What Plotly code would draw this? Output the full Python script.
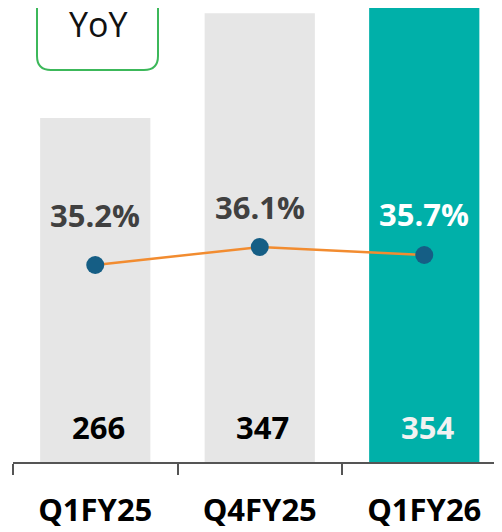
import plotly.graph_objects as go

categories = ["Q1FY25", "Q4FY25", "Q1FY26"]
values = [266, 347, 354]
yoy_pct = [35.2, 36.1, 35.7]
value_labels = ["266", "347", "354"]
pct_labels = ["35.2%", "36.1%", "35.7%"]

bar_colors = ["#e6e6e6", "#e6e6e6", "#00b0a9"]
value_text_colors = ["#000000", "#000000", "#f2f2f2"]
pct_text_colors = ["#404040", "#404040", "#ffffff"]
pct_shift = [50, 40, 41]

W, H = 502, 532
ML, MR, MT, MB = 5, 0, 0, 78
PW, PH = W - ML - MR, H - MT - MB

fig = go.Figure()
fig.add_trace(go.Bar(x=categories, y=values, marker=dict(color=bar_colors, line=dict(width=0)),
                     width=0.67, hoverinfo="skip"))
fig.add_trace(go.Scatter(x=categories, y=yoy_pct, yaxis="y2", mode="lines+markers",
                         line=dict(color="#f28c30", width=2.5),
                         marker=dict(color="#155e85", size=18), hoverinfo="skip"))

for c, v, t, col in zip(categories, values, value_labels, value_text_colors):
    fig.add_annotation(x=c, y=0, yref="y", text=f"<b>{t}</b>", showarrow=False,
                       yanchor="bottom", yshift=12, xshift=3,
                       font=dict(family="Open Sans", size=31, color=col))
for c, p, t, col, s in zip(categories, yoy_pct, pct_labels, pct_text_colors, pct_shift):
    fig.add_annotation(x=c, y=p, yref="y2", text=f"<b>{t}</b>", showarrow=False,
                       yanchor="middle", yshift=s,
                       font=dict(family="Open Sans", size=31, color=col))

def px(x):
    return (x - ML) / PW
def py(y):
    return (MT + PH - y) / PH

x0, x1, y0, y1, r = 29, 150, -30, 62, 14
path = (f"M {px(x0+r)},{py(y0)} L {px(x1-r)},{py(y0)} Q {px(x1)},{py(y0)} {px(x1)},{py(y0+r)} "
        f"L {px(x1)},{py(y1-r)} Q {px(x1)},{py(y1)} {px(x1-r)},{py(y1)} "
        f"L {px(x0+r)},{py(y1)} Q {px(x0)},{py(y1)} {px(x0)},{py(y1-r)} "
        f"L {px(x0)},{py(y0+r)} Q {px(x0)},{py(y0)} {px(x0+r)},{py(y0)} Z")
fig.add_shape(type="path", path=path, xref="paper", yref="paper",
              line=dict(color="#3cb85a", width=2), fillcolor="white", layer="above")
fig.add_annotation(x=px(90), y=py(16), xref="paper", yref="paper", text="YoY",
                   xanchor="center", yanchor="middle", borderpad=0,
                   showarrow=False, font=dict(family="Open Sans", size=34, color="#111111"))

fig.update_layout(
    width=W, height=H, margin=dict(l=ML, r=MR, t=MT, b=MB),
    paper_bgcolor="white", plot_bgcolor="white", showlegend=False,
    xaxis=dict(range=[-0.5, 2.5 - (3 * 164.5 - PW) / 164.5], showline=True, linecolor="#555555", linewidth=2,
               ticks="outside", tickson="boundaries", ticklen=11, tickwidth=2, tickcolor="#555555",
               tickfont=dict(family="Open Sans", size=31, color="#000000"),
               ticklabelstandoff=20, showgrid=False, zeroline=False,
               tickvals=categories, ticktext=[f"<b>{c}</b>" for c in categories]),
    yaxis=dict(range=[0, PH / 1.293], visible=False),
    yaxis2=dict(range=[48.05 - PH / 20, 48.05], overlaying="y", visible=False),
)

fig.write_html("out.html")
